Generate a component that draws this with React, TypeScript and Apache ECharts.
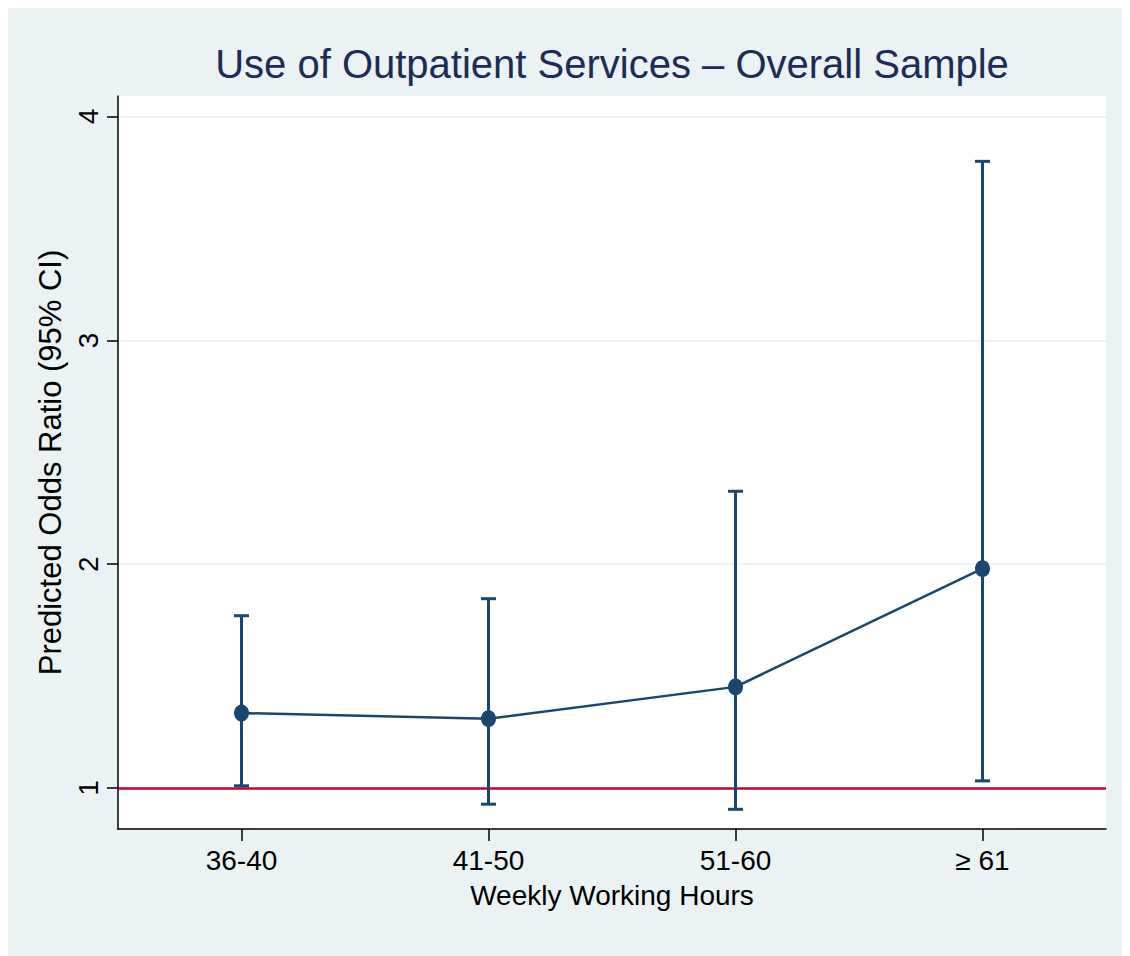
import React, { useEffect, useRef } from "react";
import * as echarts from "echarts";

const categories = ["36-40", "41-50", "51-60", "\u2265 61"];
const oddsRatio = [1.335, 1.31, 1.452, 1.98];
const ciLower = [1.01, 0.928, 0.905, 1.032];
const ciUpper = [1.77, 1.846, 2.326, 3.8];
const yTicks = [1, 2, 3, 4];
const referenceValue = 1;

const NAVY = "#1a476f";
const FONT = "'Liberation Sans', Arial, Helvetica, sans-serif";

export default function App() {
  const ref = useRef<HTMLDivElement>(null);

  useEffect(() => {
    if (!ref.current) return;
    const chart = echarts.init(ref.current, undefined, { renderer: "svg" });

    const errData = categories.map((_, i) => [i, ciLower[i], ciUpper[i]]);

    chart.setOption({
      animation: false,
      backgroundColor: "#eaf2f3",
      textStyle: { fontFamily: FONT },
      graphic: [
        {
          type: "text",
          x: 605,
          y: 57,
          style: {
            text: "Use of Outpatient Services \u2013 Overall Sample",
            fill: "#1c2c55",
            font: `40px ${FONT}`,
            textAlign: "center",
            textVerticalAlign: "middle",
          },
        },
      ],
      grid: {
        left: 111,
        top: 89,
        width: 988,
        height: 733,
        show: true,
        backgroundColor: "#ffffff",
        borderWidth: 0,
      },
      xAxis: {
        type: "category",
        data: categories,
        boundaryGap: true,
        name: "Weekly Working Hours",
        nameLocation: "middle",
        nameGap: 52,
        nameTextStyle: { fontSize: 28, color: "#000", fontFamily: FONT },
        axisLine: { show: true, lineStyle: { color: "#000", width: 1.5 } },
        axisTick: { show: true, alignWithLabel: true, length: 12, lineStyle: { color: "#000", width: 1.5 } },
        axisLabel: { fontSize: 28, color: "#000", margin: 17, fontFamily: FONT },
        splitLine: { show: false },
      },
      yAxis: {
        type: "value",
        min: 0.817,
        max: 4.092,
        name: "Predicted Odds Ratio (95% CI)",
        nameLocation: "middle",
        nameGap: 50,
        nameTextStyle: { fontSize: 31, color: "#000", fontFamily: FONT },
        axisLine: { show: true, lineStyle: { color: "#000", width: 1.5 } },
        axisTick: { show: true, length: 11, customValues: yTicks, lineStyle: { color: "#000", width: 1.5 } },
        axisLabel: {
          fontSize: 28,
          color: "#000",
          rotate: 90,
          margin: 16,
          customValues: yTicks,
          formatter: (v: number) => String(Math.round(v)),
          fontFamily: FONT,
        },
        splitLine: { show: true, lineStyle: { color: "#eaf2f3", width: 2 } },
      },
      series: [
        {
          type: "custom",
          z: 3,
          data: errData,
          renderItem: (params: any, api: any) => {
            const i = api.value(0);
            const lo = api.coord([i, api.value(1)]);
            const hi = api.coord([i, api.value(2)]);
            const hw = 7.5;
            const style = { stroke: NAVY, lineWidth: 3, fill: "none" };
            return {
              type: "group",
              children: [
                { type: "line", shape: { x1: lo[0], y1: lo[1], x2: hi[0], y2: hi[1] }, style },
                { type: "line", shape: { x1: lo[0] - hw, y1: lo[1], x2: lo[0] + hw, y2: lo[1] }, style },
                { type: "line", shape: { x1: hi[0] - hw, y1: hi[1], x2: hi[0] + hw, y2: hi[1] }, style },
              ],
            };
          },
        },
        {
          type: "line",
          data: oddsRatio,
          z: 4,
          symbol: "circle",
          symbolSize: [15, 17],
          itemStyle: { color: NAVY },
          lineStyle: { color: NAVY, width: 2.5 },
          markLine: {
            silent: true,
            symbol: "none",
            z: 2,
            label: { show: false },
            data: [{ yAxis: referenceValue, lineStyle: { color: "#c10534", width: 2.5, type: "solid" } }],
          },
        },
      ],
    });

    return () => chart.dispose();
  }, []);

  return <div ref={ref} style={{ width: 1123, height: 949, marginLeft: -1, marginTop: -1 }} />;
}
